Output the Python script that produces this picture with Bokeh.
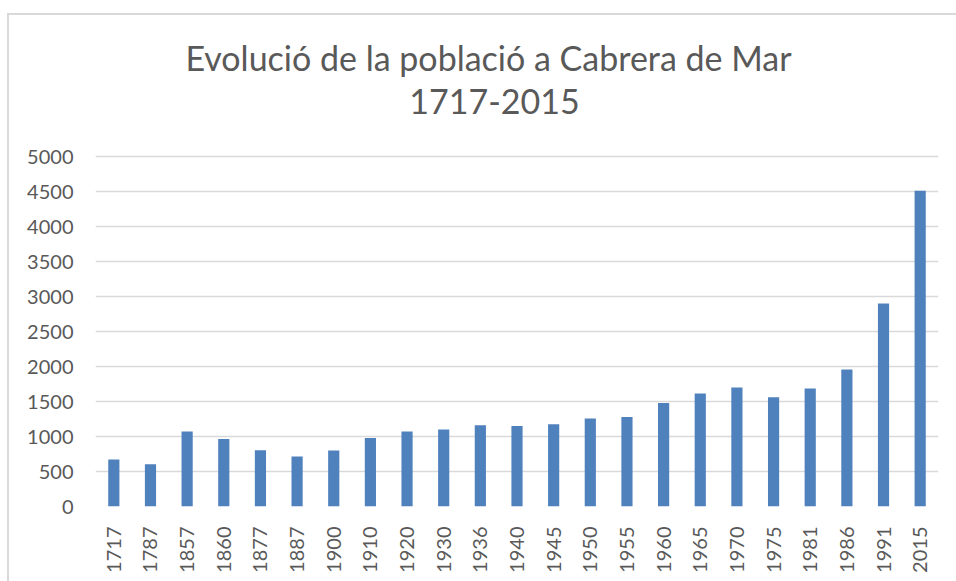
from bokeh.plotting import figure
from bokeh.models import Label, ColumnDataSource, FixedTicker, Range1d
from bokeh.embed import file_html
from bokeh.resources import INLINE
import math

years = ["1717", "1787", "1857", "1860", "1877", "1887", "1900", "1910", "1920", "1930", "1936",
         "1940", "1945", "1950", "1955", "1960", "1965", "1970", "1975", "1981", "1986", "1991", "2015"]
population = [671, 604, 1071, 966, 804, 714, 800, 980, 1071, 1100, 1161,
              1151, 1176, 1257, 1281, 1480, 1614, 1700, 1561, 1686, 1957, 2904, 4514]
y_ticks = [0, 500, 1000, 1500, 2000, 2500, 3000, 3500, 4000, 4500, 5000]

title_line1 = "Evolució de la població a Cabrera de Mar"
title_line2 = "1717-2015"

FONT = "Lato"
TXT = "#595959"
GRID = "#d9d9d9"

src = ColumnDataSource(dict(year=years, pop=population))

# frame extends up to the chart's top so the two title lines can sit inside it;
# the axis only shows ticks 0..5000
p = figure(x_range=years, y_range=Range1d(0, 7020), width=949, height=568,
           output_backend="svg", toolbar_location=None,
           min_border_left=86, min_border_right=20, min_border_top=0, min_border_bottom=77,
           margin=(13, 0, 0, 7),
           styles={"border-left": f"2px solid {GRID}", "border-top": f"2px solid {GRID}"})

p.add_layout(Label(text=title_line1, x=393, y=449, x_units="screen", y_units="screen",
                   text_align="center", text_baseline="middle", text_font=FONT,
                   text_font_size="34px", text_color=TXT))
p.add_layout(Label(text=title_line2, x=399, y=405, x_units="screen", y_units="screen",
                   text_align="center", text_baseline="middle", text_font=FONT,
                   text_font_size="34px", text_color=TXT))

p.vbar(x="year", top="pop", width=0.305, source=src, fill_color="#4f81bd", line_color=None)

p.outline_line_color = None
p.background_fill_color = "white"
p.border_fill_color = "white"

p.xgrid.grid_line_color = None
p.ygrid.grid_line_color = GRID
p.ygrid.grid_line_width = 1.5
p.yaxis.ticker = FixedTicker(ticks=y_ticks)

for ax in (p.xaxis, p.yaxis):
    ax.axis_line_color = None
    ax.major_tick_line_color = None
    ax.minor_tick_line_color = None
    ax.major_label_text_font = FONT
    ax.major_label_text_font_size = "20px"
    ax.major_label_text_color = TXT

p.yaxis.major_label_standoff = 16
p.xaxis.major_label_standoff = 14
p.xaxis.major_label_orientation = math.pi / 2

open("out.html", "w").write(file_html(p, INLINE))
